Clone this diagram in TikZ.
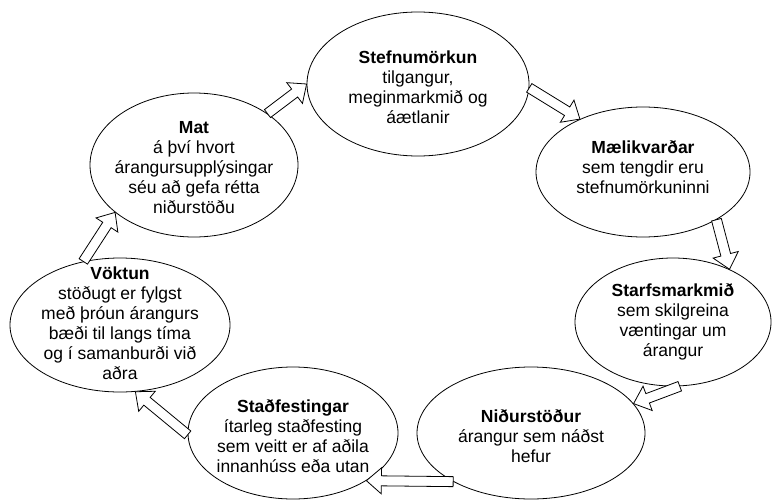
\documentclass[tikz,border=0pt]{standalone}
\usepackage{fontspec}
\setmainfont{Liberation Sans}
\usepackage{tikz}
\usetikzlibrary{shapes.geometric,calc}

\tikzset{
 stage/.style={ellipse, draw=black, line width=0.8pt, inner sep=0pt},
 stagetext/.style={align=center, inner sep=0pt,
 font=\fontsize{17.5}{20}\selectfont},
 % hollow block arrow from start to target
 cyclearrow/.style={draw=black, fill=white, line width=0.8pt, line join=miter,
   to path={
   ($(\tikztostart)!5pt!90:(\tikztotarget)$)
   -- ($($(\tikztotarget)!15pt!(\tikztostart)$)!5pt!90:(\tikztotarget)$)
   -- ($($(\tikztotarget)!15pt!(\tikztostart)$)!13pt!90:(\tikztotarget)$)
   -- (\tikztotarget)
   -- ($($(\tikztotarget)!15pt!(\tikztostart)$)!13pt!-90:(\tikztotarget)$)
   -- ($($(\tikztotarget)!15pt!(\tikztostart)$)!5pt!-90:(\tikztotarget)$)
   -- ($(\tikztostart)!5pt!-90:(\tikztotarget)$) -- cycle}},
}

\begin{document}
\begin{tikzpicture}[x=1pt,y=-1pt]
\useasboundingbox (0,0) rectangle (775,500);

% stages of the cycle
\node[stage, minimum width=222pt, minimum height=144pt] (stef) at (418,84) {};
\node[stage, minimum width=214pt, minimum height=130pt] (maeli) at (643,172) {};
\node[stage, minimum width=196pt, minimum height=128pt] (starf) at (673,322) {};
\node[stage, minimum width=228pt, minimum height=132pt] (nidur) at (531,433) {};
\node[stage, minimum width=210pt, minimum height=132pt] (stadf) at (293,433) {};
\node[stage, minimum width=220pt, minimum height=134pt] (voktun) at (120,325) {};
\node[stage, minimum width=208pt, minimum height=144pt] (mat) at (194,165) {};

% texts
\node[stagetext] (stef-t) at ($(stef)+(0,3)$) {\textbf{Stefnumörkun}\\tilgangur,\\meginmarkmið og\\áætlanir};
\node[stagetext] (maeli-t) at ($(maeli)+(0,-5)$) {\textbf{Mælikvarðar}\\sem tengdir eru\\stefnumörkuninni};
\node[stagetext] (starf-t) at (starf) {\textbf{Starfsmarkmið}\\sem skilgreina\\væntingar um\\árangur};
\node[stagetext] (nidur-t) at ($(nidur)+(0,3)$) {\textbf{Niðurstöður}\\árangur sem náðst\\hefur};
\node[stagetext] (stadf-t) at ($(stadf)+(0,3)$) {\textbf{Staðfestingar}\\ítarleg staðfesting\\sem veitt er af aðila\\innanhúss eða utan};
\node[stagetext] (voktun-t) at ($(voktun)+(0,-2)$) {\textbf{Vöktun}\\stöðugt er fylgst\\með þróun árangurs\\bæði til langs tíma\\og í samanburði við\\aðra};
\node[stagetext] (mat-t) at ($(mat)+(0,3)$) {\textbf{Mat}\\á því hvort\\árangursupplýsingar\\séu að gefa rétta\\niðurstöðu};

% block arrows round the cycle
\draw[cyclearrow] (mat.35) to (stef.180);
\draw[cyclearrow] (stef.358) to (maeli.140);
\draw[cyclearrow] (maeli.327) to (starf.43);
\draw[cyclearrow] (starf.276) to (nidur.16);
\draw[cyclearrow] (nidur.212) to (stadf.327);
\draw[cyclearrow] (stadf.181) to (voktun.283);
\draw[cyclearrow] (voktun.120) to (mat.211);

\end{tikzpicture}
\end{document}
